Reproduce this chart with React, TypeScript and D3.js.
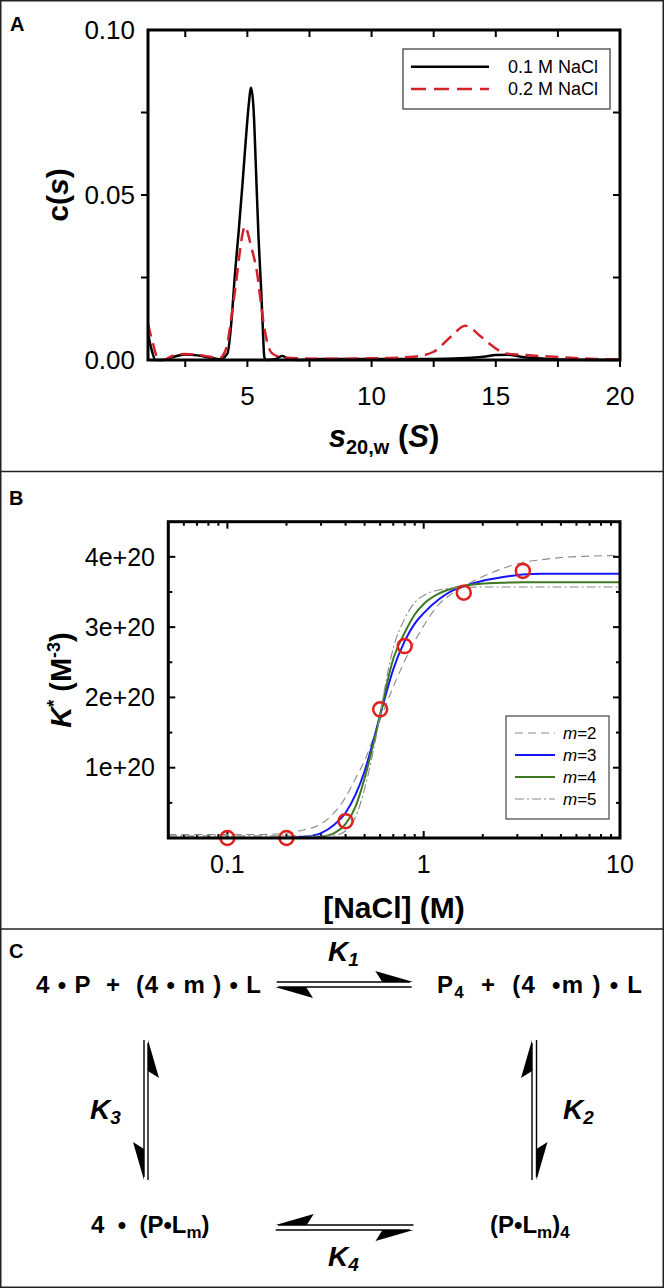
import React from 'react';
import * as d3 from 'd3';

// ---------- Panel A data: c(s) distributions ----------
const s01 = [1.0, 1.15, 1.3, 1.6, 2.0, 2.5, 3.0, 3.5, 3.9, 4.2, 4.35, 4.5, 4.65, 4.8, 4.95, 5.05, 5.15, 5.25, 5.35, 5.45, 5.55, 5.62, 5.68, 5.75, 6.1, 6.4, 6.7, 7.0, 8, 10, 12, 13, 14, 14.5, 15, 15.5, 16, 17, 18, 20];
const c01 = [0.008, 0.003, 0.0, 0.0, 0.0009, 0.0017, 0.0014, 0.0007, 0.0002, 0.002, 0.011, 0.026, 0.039, 0.053, 0.068, 0.077, 0.0825, 0.076, 0.057, 0.037, 0.022, 0.010, 0.001, 0.0, 0.0002, 0.0012, 0.0002, 0.0, 0.0003, 0.0003, 0.0003, 0.0004, 0.0007, 0.001, 0.0015, 0.0016, 0.001, 0.0004, 0.0001, 0.0];

const s02 = [1.0, 1.2, 1.4, 1.6, 2.0, 2.5, 3.0, 3.5, 3.9, 4.05, 4.2, 4.3, 4.45, 4.57, 4.7, 4.8, 4.9, 5.0, 5.1, 5.2, 5.3, 5.4, 5.5, 5.6, 5.7, 5.85, 6.0, 6.3, 7.0, 8, 9, 10, 11, 11.7, 12.5, 13.2, 13.77, 14.4, 14.8, 15.4, 16, 16.8, 18, 19, 20];
const c02 = [0.011, 0.005, 0.0005, 0.0, 0.0013, 0.0018, 0.0015, 0.001, 0.0006, 0.0018, 0.005, 0.010, 0.018, 0.025, 0.033, 0.038, 0.0405, 0.039, 0.036, 0.033, 0.030, 0.026, 0.020, 0.014, 0.009, 0.004, 0.002, 0.001, 0.0005, 0.0004, 0.0004, 0.0005, 0.0007, 0.001, 0.0025, 0.0071, 0.0104, 0.0071, 0.0046, 0.002, 0.0016, 0.0012, 0.0007, 0.0003, 0.0002];

const seriesA = ['0.1 M NaCl', '0.2 M NaCl'];
const xTicksA = [5, 10, 15, 20];
const yTicksA = [0, 0.05, 0.1];

// ---------- Panel B data: K* vs [NaCl] (units of 1e20 M^-3) ----------
const nacl = [0.05, 0.1, 0.15, 0.2, 0.25, 0.3, 0.35, 0.4, 0.45, 0.5, 0.55, 0.6, 0.65, 0.7, 0.8, 0.9, 1.0, 1.2, 1.4, 1.6, 2.0, 2.5, 3.2, 4, 5, 7, 10];
const fitM2 = [0.05, 0.05, 0.05, 0.07, 0.12, 0.2, 0.36, 0.58, 0.85, 1.1, 1.4, 1.68, 1.93, 2.15, 2.52, 2.8, 3.02, 3.33, 3.48, 3.58, 3.72, 3.83, 3.92, 3.96, 3.99, 4.01, 4.02];
const fitM3 = [0, 0, 0, 0, 0.02, 0.07, 0.19, 0.36, 0.62, 0.95, 1.35, 1.75, 2.1, 2.4, 2.8, 3.05, 3.2, 3.4, 3.52, 3.58, 3.66, 3.71, 3.75, 3.76, 3.76, 3.76, 3.76];
const fitM4 = [0, 0, 0, 0, 0, 0.02, 0.07, 0.2, 0.45, 0.85, 1.3, 1.75, 2.2, 2.55, 2.92, 3.18, 3.33, 3.48, 3.55, 3.59, 3.62, 3.63, 3.64, 3.64, 3.64, 3.64, 3.64];
const fitM5 = [0.03, 0.03, 0.03, 0.03, 0.03, 0.03, 0.04, 0.1, 0.3, 0.7, 1.2, 1.75, 2.3, 2.7, 3.12, 3.35, 3.45, 3.53, 3.555, 3.565, 3.57, 3.57, 3.57, 3.57, 3.57, 3.57, 3.57];
const obsNaCl = [0.1, 0.2, 0.4, 0.6, 0.8, 1.6, 3.2];
const obsK = [0.0, 0.0, 0.24, 1.83, 2.73, 3.49, 3.80];
const fitLabels = ['2', '3', '4', '5'];
const xTicksB = [0.1, 1, 10];
const yTicksB = [1, 2, 3, 4];

const FONT = "'Liberation Sans', Arial, Helvetica, sans-serif";

function harpoon(tx: number, ty: number, dx: number, dy: number, side: number) {
  const px = -dy * side, py = dx * side;
  const p1 = [tx, ty];
  const p2 = [tx - dx * 38 + px * 11, ty - dy * 38 + py * 11];
  const p3 = [tx - dx * 31, ty - dy * 31];
  return `${p1.join(',')} ${p2.join(',')} ${p3.join(',')}`;
}

export default function App() {
  const xA = d3.scaleLinear().domain([1, 20]).range([148, 620]);
  const yA = d3.scaleLinear().domain([0, 0.1]).range([360, 30]);
  const lineA = d3.line<[number, number]>().x(d => xA(d[0])).y(d => yA(d[1])).curve(d3.curveMonotoneX);
  const d01 = lineA(s01.map((s, i) => [s, c01[i]] as [number, number])) || '';
  const d02 = lineA(s02.map((s, i) => [s, c02[i]] as [number, number])) || '';
  const minorA = d3.range(2.5, 20.01, 2.5);
  const yMinorA = [0.025, 0.05, 0.075];

  const xB = d3.scaleLog().domain([0.05, 10]).range([168.3, 620]);
  const yB = d3.scaleLinear().domain([0, 4.5]).range([838, 521.7]);
  const lineB = d3.line<[number, number]>().x(d => xB(d[0])).y(d => yB(d[1])).curve(d3.curveMonotoneX);
  const mk = (arr: number[]) => lineB(nacl.map((x, i) => [x, arr[i]] as [number, number])) || '';
  const fits = [
    { d: mk(fitM2), stroke: '#8a8a8a', w: 1.1, dash: '8,5' },
    { d: mk(fitM3), stroke: '#1515ff', w: 2, dash: '' },
    { d: mk(fitM4), stroke: '#3b7a22', w: 2, dash: '' },
    { d: mk(fitM5), stroke: '#8a8a8a', w: 1.1, dash: '9,3,2,3' },
  ];
  const logMajor = [0.1, 1];
  const logMinor: number[] = [];
  [0.01, 0.1, 1].forEach(dec => { for (let k = 2; k <= 9; k++) { const v = dec * k; if (v > 0.05 && v < 10) logMinor.push(v); } });
  const yMajorB = [1, 2, 3, 4];
  const yMinorB = [0.5, 1.5, 2.5, 3.5];

  const txt = { fontFamily: FONT } as React.CSSProperties;

  return (
    <svg width={664} height={1288} style={{ position: 'absolute', left: 0, top: 0, background: '#fff' }} fontFamily={FONT}>
      <rect x={0} y={0} width={664} height={1288} fill="#fff" />
      <rect x={0.75} y={0.75} width={662.5} height={1286.5} fill="none" stroke="#222" strokeWidth={1.5} />
      <line x1={0} x2={664} y1={471.5} y2={471.5} stroke="#222" strokeWidth={1.5} />
      <line x1={0} x2={664} y1={929} y2={929} stroke="#222" strokeWidth={1.5} />

      {/* ================= Panel A ================= */}
      <text x={10} y={31} fontSize={20} fontWeight="bold" style={txt}>A</text>
      {minorA.map(v => (
        <g key={'ta' + v}>
          <line x1={xA(v)} x2={xA(v)} y1={360} y2={367} stroke="#000" strokeWidth={2} />
          <line x1={xA(v)} x2={xA(v)} y1={30} y2={37} stroke="#000" strokeWidth={2} />
        </g>
      ))}
      {yMinorA.map(v => (
        <g key={'tya' + v}>
          <line x1={148} x2={141} y1={yA(v)} y2={yA(v)} stroke="#000" strokeWidth={2} />
          <line x1={620} x2={613} y1={yA(v)} y2={yA(v)} stroke="#000" strokeWidth={2} />
        </g>
      ))}
      <path d={d01} fill="none" stroke="#000" strokeWidth={2.5} strokeLinejoin="round" />
      <path d={d02} fill="none" stroke="#d4202a" strokeWidth={2.5} strokeDasharray="13,7" strokeLinejoin="round" />
      <rect x={148} y={30} width={472} height={330} fill="none" stroke="#000" strokeWidth={3} />
      {yTicksA.map(v => (
        <text key={'yla' + v} x={135} y={yA(v)} dy="0.35em" textAnchor="end" fontSize={26} style={txt}>{v.toFixed(2)}</text>
      ))}
      {xTicksA.map(v => (
        <text key={'xla' + v} x={xA(v)} y={405} textAnchor="middle" fontSize={26} style={txt}>{v}</text>
      ))}
      <text transform="translate(68,195) rotate(-90)" textAnchor="middle" fontSize={30} fontWeight="bold" style={txt}>
        c(<tspan fontStyle="italic">s</tspan>)
      </text>
      <text x={384} y={447} textAnchor="middle" fontSize={31} fontWeight="bold" style={txt}>
        <tspan fontStyle="italic">s</tspan>
        <tspan fontSize={20} dy={7}>20,w</tspan>
        <tspan dy={-7}> (</tspan>
        <tspan fontStyle="italic">S</tspan>)
      </text>
      <rect x={403} y={49} width={207} height={60} fill="#fff" stroke="#444" strokeWidth={1.3} />
      <line x1={411} x2={489} y1={66.7} y2={66.7} stroke="#000" strokeWidth={2.5} />
      <line x1={411} x2={489} y1={89} y2={89} stroke="#d4202a" strokeWidth={2.5} strokeDasharray="15,8" />
      <text x={508} y={66.7} dy="0.36em" fontSize={18} style={txt}>{seriesA[0]}</text>
      <text x={508} y={89} dy="0.36em" fontSize={18} style={txt}>{seriesA[1]}</text>

      {/* ================= Panel B ================= */}
      <text x={9} y={505} fontSize={20} fontWeight="bold" style={txt}>B</text>
      {logMajor.map(v => (
        <g key={'lbM' + v}>
          <line x1={xB(v)} x2={xB(v)} y1={838} y2={831} stroke="#000" strokeWidth={2} />
          <line x1={xB(v)} x2={xB(v)} y1={521.7} y2={528.7} stroke="#000" strokeWidth={2} />
        </g>
      ))}
      {logMinor.map(v => (
        <g key={'lbm' + v}>
          <line x1={xB(v)} x2={xB(v)} y1={838} y2={834} stroke="#000" strokeWidth={2} />
          <line x1={xB(v)} x2={xB(v)} y1={521.7} y2={525.7} stroke="#000" strokeWidth={2} />
        </g>
      ))}
      {yMajorB.map(v => (
        <g key={'ybM' + v}>
          <line x1={168.3} x2={175.3} y1={yB(v)} y2={yB(v)} stroke="#000" strokeWidth={2} />
          <line x1={620} x2={613} y1={yB(v)} y2={yB(v)} stroke="#000" strokeWidth={2} />
        </g>
      ))}
      {yMinorB.map(v => (
        <g key={'ybm' + v}>
          <line x1={168.3} x2={172.3} y1={yB(v)} y2={yB(v)} stroke="#000" strokeWidth={2} />
          <line x1={620} x2={616} y1={yB(v)} y2={yB(v)} stroke="#000" strokeWidth={2} />
        </g>
      ))}
      {fits.map((f, i) => (
        <path key={'fit' + i} d={f.d} fill="none" stroke={f.stroke} strokeWidth={f.w} strokeDasharray={f.dash || undefined} />
      ))}
      {obsNaCl.map((x, i) => (
        <circle key={'ob' + i} cx={xB(x)} cy={yB(obsK[i])} r={7} fill="none" stroke="#e0201c" strokeWidth={2.5} />
      ))}
      <rect x={168.3} y={521.7} width={451.7} height={316.3} fill="none" stroke="#000" strokeWidth={3} />
      {yTicksB.map(v => (
        <text key={'ylb' + v} x={155} y={yB(v)} dy="0.35em" textAnchor="end" fontSize={25} style={txt}>{`${v}e+20`}</text>
      ))}
      {xTicksB.map(v => (
        <text key={'xlb' + v} x={xB(v)} y={873} textAnchor="middle" fontSize={25} style={txt}>{v}</text>
      ))}
      <text transform="translate(71,680) rotate(-90)" textAnchor="middle" fontSize={29} fontWeight="bold" style={txt}>
        <tspan fontStyle="italic">K</tspan>
        <tspan fontSize={18} dy={-11}>*</tspan>
        <tspan dy={11}> (M</tspan>
        <tspan fontSize={18} dy={-11}>-3</tspan>
        <tspan dy={11}>)</tspan>
      </text>
      <text x={394} y={918} textAnchor="middle" fontSize={30} fontWeight="bold" style={txt}>[NaCl] (M)</text>
      <rect x={506} y={716} width={103} height={103} fill="#fff" stroke="#444" strokeWidth={1.2} />
      {fits.map((f, i) => {
        const yy = 733 + i * 22;
        return (
          <g key={'lgb' + i}>
            <line x1={515} x2={555} y1={yy} y2={yy} stroke={f.stroke} strokeWidth={f.w} strokeDasharray={f.dash || undefined} />
            <text x={563} y={yy} dy="0.36em" fontSize={17} style={txt}>
              <tspan fontStyle="italic">m</tspan>={fitLabels[i]}
            </text>
          </g>
        );
      })}

      {/* ================= Panel C ================= */}
      <text x={9} y={958} fontSize={20} fontWeight="bold" style={txt}>C</text>
      <text x={36} y={993} fontSize={24} fontWeight="bold" style={txt} textLength={225} lengthAdjust="spacing" xmlSpace="preserve">4 • P  +  (4 • m ) • L</text>
      <text x={437} y={993} fontSize={24} fontWeight="bold" style={txt} textLength={205} lengthAdjust="spacing" xmlSpace="preserve">
        P<tspan fontSize={17} dy={5}>4</tspan><tspan dy={-5}>  +  (4  •m ) • L</tspan>
      </text>
      <text x={91} y={1233} fontSize={24} fontWeight="bold" style={txt} xmlSpace="preserve">
        4  •  (P•L<tspan fontSize={17} dy={5}>m</tspan><tspan dy={-5}>)</tspan>
      </text>
      <text x={490} y={1233} fontSize={24} fontWeight="bold" style={txt} xmlSpace="preserve">
        (P•L<tspan fontSize={17} dy={5}>m</tspan><tspan dy={-5}>)</tspan><tspan fontSize={17} dy={5}>4</tspan>
      </text>
      {[
        { x: 328, y: 961, n: '1' },
        { x: 328, y: 1266, n: '4' },
        { x: 90, y: 1119, n: '3' },
        { x: 563, y: 1119, n: '2' },
      ].map(k => (
        <text key={'K' + k.n} x={k.x} y={k.y} fontSize={28} fontWeight="bold" fontStyle="italic" style={txt}>
          K<tspan fontSize={19} dy={5}>{k.n}</tspan>
        </text>
      ))}
      <g stroke="#000" strokeWidth={1.4}>
        <line x1={276.7} x2={410} y1={982} y2={982} />
        <line x1={278} x2={411.7} y1={987} y2={987} />
        <line x1={278} x2={413.5} y1={1225} y2={1225} />
        <line x1={275.7} x2={410} y1={1230} y2={1230} />
        <line x1={148} x2={148} y1={1043} y2={1180} />
        <line x1={144} x2={144} y1={1040} y2={1177} />
        <line x1={532} x2={532} y1={1043} y2={1180} />
        <line x1={536.5} x2={536.5} y1={1040} y2={1177} />
      </g>
      <g fill="#000">
        <polygon points={harpoon(413.3, 982, 1, 0, -1)} />
        <polygon points={harpoon(275, 987, -1, 0, -1)} />
        <polygon points={harpoon(275.7, 1225, -1, 0, 1)} />
        <polygon points={harpoon(413.5, 1230, 1, 0, 1)} />
        <polygon points={harpoon(148, 1040, 0, -1, 1)} />
        <polygon points={harpoon(144, 1180, 0, 1, 1)} />
        <polygon points={harpoon(532, 1040, 0, -1, -1)} />
        <polygon points={harpoon(536.5, 1180, 0, 1, -1)} />
      </g>
    </svg>
  );
}
